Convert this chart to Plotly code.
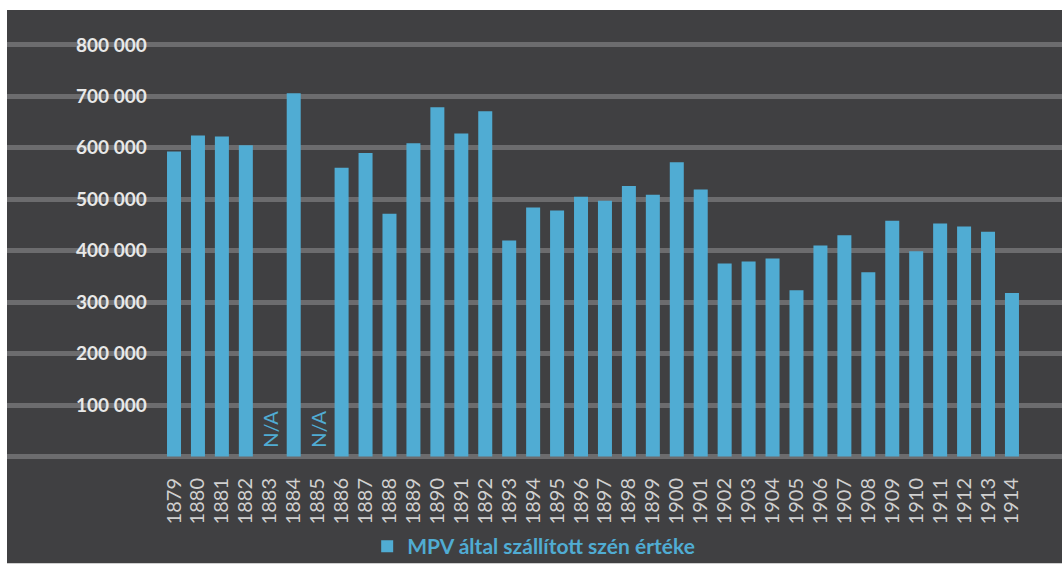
import plotly.graph_objects as go

years = [str(y) for y in range(1879, 1915)]
values = [593000, 624000, 622000, 605000, None, 706000, None, 561000, 590000, 472000,
          609000, 679000, 628000, 671000, 420000, 484000, 478000, 505000, 497000, 526000,
          509000, 572000, 519000, 375000, 379000, 385000, 323000, 410000, 430000, 358000,
          458000, 399000, 453000, 447000, 437000, 318000]
missing_years = ["1883", "1885"]
missing_label = "N/A"
y_ticks = [100000, 200000, 300000, 400000, 500000, 600000, 700000, 800000]
y_ticktext = ["100 000", "200 000", "300 000", "400 000", "500 000", "600 000", "700 000", "800 000"]
series_name = "MPV által szállított szén értéke"

BLUE = "#50acd3"
DARK = "#404042"
GRID = "#6c6c6e"
FONT = "Lato"

W, H = 1062, 567
L, T, B = 7, 10, 97
plot_h = H - T - B

fig = go.Figure()
fig.add_trace(go.Bar(x=years, y=values, name=series_name, marker=dict(color=BLUE, line=dict(width=0)),
                     showlegend=True))

for yr in missing_years:
    fig.add_annotation(x=years.index(yr), y=0, xref="x", yref="y", text=missing_label,
                       textangle=-90, showarrow=False,
                       yanchor="bottom", yshift=7, font=dict(family=FONT, size=20, color=BLUE))

fig.add_shape(type="rect", xref="paper", yref="paper", x0=0, x1=1,
              y0=-(B) / plot_h, y1=1, fillcolor=DARK, line=dict(width=0), layer="below")

fig.update_layout(
    width=W, height=H,
    margin=dict(l=L, r=0, t=T, b=B, pad=0),
    paper_bgcolor="white",
    plot_bgcolor=DARK,
    bargap=0.415,
    font=dict(family=FONT),
    legend=dict(orientation="h", x=0.3414, xanchor="left", y=-0.174, yanchor="middle",
                font=dict(family=FONT, size=21, color=BLUE, weight="bold"),
                bgcolor="rgba(0,0,0,0)", itemwidth=30),
    xaxis=dict(type="category", range=[-6.976, 37.09], tickangle=-90, showgrid=False, zeroline=False,
               tickmode="array", tickvals=years, ticktext=years,
               showline=False, ticks="", ticklabelstandoff=6,
               tickfont=dict(family=FONT, size=20, color="#d0d0d0")),
    yaxis=dict(range=[-20270, 867761], tickvals=y_ticks, ticktext=y_ticktext,
               ticklabelposition="inside", ticklabelstandoff=66,
               showgrid=True, gridcolor=GRID, gridwidth=5,
               zeroline=True, zerolinecolor=GRID, zerolinewidth=5,
               showline=False, ticks="",
               tickfont=dict(family=FONT, size=19, color="#e8e8e8", weight="bold")),
)

fig.write_html("out.html")
